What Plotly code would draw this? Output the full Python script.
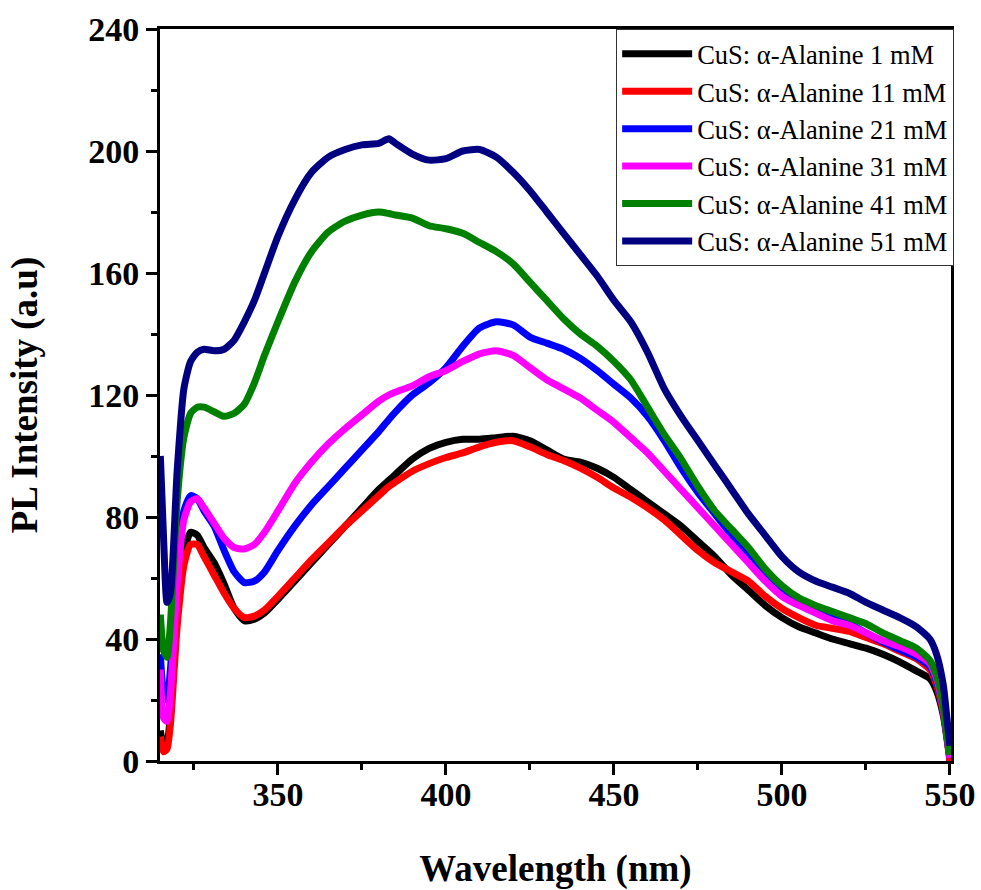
import plotly.graph_objects as go

wavelength = [315, 316, 317, 318, 320, 322, 324, 326, 328, 331, 334, 337, 340, 343, 346, 350,
              355, 360, 365, 370, 375, 380, 383, 385, 390, 395, 400, 405, 410, 415, 420, 425,
              430, 435, 440, 445, 450, 455, 460, 465, 470, 475, 480, 485, 490, 495, 500, 505,
              510, 515, 520, 525, 530, 535, 540, 544, 546, 548, 549, 550]

pl_1mM = [10, 5, 6, 15, 48, 68, 75, 74, 70, 65, 58, 50, 46, 46.5, 48.5, 53,
          59, 65, 71, 77, 83, 89, 92, 94, 99, 102.5, 104.5, 105.5, 105.5, 106, 106.5, 105,
          102, 99, 98, 96, 93, 89, 85, 81, 77, 72, 67, 61, 56, 51, 47, 44,
          42, 40, 38.5, 37, 35, 32.5, 29.5, 27, 23, 15, 8, 0]

pl_11mM = [8, 3, 4, 12, 44, 64, 71, 71, 67, 61, 55, 50, 47, 47.5, 49.5, 54,
           60, 66, 71.5, 77, 82, 87, 90, 91.5, 95, 97.5, 99.5, 101, 103, 104.5, 105, 103,
           100.5, 98.5, 96, 93, 89.5, 86.5, 83, 79, 74, 69, 65, 62, 59, 54, 50, 47,
           44.5, 43.5, 42.5, 40.5, 38.5, 36, 33.5, 30, 25, 16, 9, 0]

pl_21mM = [35, 22, 20, 30, 65, 82, 87, 86, 82, 77, 69, 62, 58.5, 59, 62, 69,
           77, 84, 90, 96, 102, 108, 112, 114.5, 120, 124, 129, 136, 142, 144, 143, 139,
           137, 135, 132, 128, 123.5, 119, 113, 105, 96, 88, 81, 74, 67, 61, 56, 52.5,
           50, 47, 45, 42, 39, 36.5, 34, 31, 26, 17, 9, 1]

pl_31mM = [30, 14, 13, 22, 58, 79, 85, 86, 83, 78, 73, 70, 69.5, 71, 75, 82,
           91, 98, 104, 109, 113.5, 118, 120, 121, 123, 126, 128, 131, 133.5, 134.5, 133, 129,
           125, 122, 119, 115, 111, 106, 101, 95, 89, 83, 77, 71, 65, 59, 54, 51,
           48.5, 46, 44.5, 42, 39.5, 37.5, 35, 32, 27, 17, 9, 1]

pl_41mM = [48, 36, 34, 45, 85, 106, 114, 116, 116, 114.5, 113, 114, 117, 124, 133, 144,
           157, 167, 173.5, 177, 179, 180, 179.5, 179, 178, 175.5, 174.5, 173, 170, 167, 163, 157,
           151, 145, 140, 136, 131, 125, 116, 107, 99, 90, 82, 76, 70, 63, 57.5, 53.5,
           51, 49, 47, 45, 42, 39.5, 37, 33, 28, 18, 9, 2]

pl_51mM = [100, 72, 52, 55, 95, 122, 131, 134, 135, 134.5, 135, 138, 144, 151, 160, 172,
           184, 193, 198, 200.5, 202, 202.5, 204, 202.5, 199, 197, 197.5, 200, 200.5, 198, 193, 187,
           180, 173, 166, 159, 151, 144, 134, 122, 113, 105, 97, 89, 81, 74, 67, 62,
           59, 57, 55, 52, 49.5, 47, 44, 40, 35, 25, 15, 5]

series_names = ["CuS: α-Alanine 1 mM", "CuS: α-Alanine 11 mM", "CuS: α-Alanine 21 mM",
                "CuS: α-Alanine 31 mM", "CuS: α-Alanine 41 mM", "CuS: α-Alanine 51 mM"]
series_values = [pl_1mM, pl_11mM, pl_21mM, pl_31mM, pl_41mM, pl_51mM]
series_colors = ["#000000", "#FF0000", "#0000FF", "#FF00FF", "#008000", "#000080"]

x_tick_vals = [350, 400, 450, 500, 550]
y_tick_vals = [0, 40, 80, 120, 160, 200, 240]

FONT = "Liberation Serif, Times New Roman, serif"

fig = go.Figure()
for name, vals, col in zip(series_names, series_values, series_colors):
    fig.add_trace(go.Scatter(x=wavelength, y=vals, mode="lines", name=name,
                             line=dict(color=col, width=7, shape="spline", smoothing=0.6)))

fig.update_layout(
    width=981, height=890,
    margin=dict(l=160, r=30, t=29, b=129),
    plot_bgcolor="white", paper_bgcolor="white",
    font=dict(family=FONT, color="black"),
    showlegend=True,
    legend=dict(x=1.004, y=1.0, xanchor="right", yanchor="top",
                bgcolor="white", bordercolor="#333333", borderwidth=1,
                font=dict(family=FONT, size=26.5, color="black"),
                itemwidth=70, tracegroupgap=0),
)

fig.update_xaxes(
    range=[314.9, 550.3], tickvals=x_tick_vals, automargin=False,
    showline=True, linecolor="black", linewidth=3, mirror=True,
    ticks="outside", ticklen=11, tickwidth=3, tickcolor="black",
    ticklabelstandoff=-10,
    minor=dict(dtick=25, tick0=325, ticks="outside", ticklen=6, tickwidth=3, tickcolor="black"),
    showgrid=False, zeroline=False,
    tickfont=dict(family=FONT, size=34, color="black", weight="bold"),
    title=dict(text="Wavelength (nm)", standoff=54,
               font=dict(family=FONT, size=37, color="black", weight="bold")),
)

fig.update_yaxes(
    range=[0, 240], tickvals=y_tick_vals, automargin=False,
    showline=True, linecolor="black", linewidth=3, mirror=True,
    ticks="outside", ticklen=11, tickwidth=3, tickcolor="black",
    minor=dict(dtick=20, tick0=20, ticks="outside", ticklen=6, tickwidth=3, tickcolor="black"),
    showgrid=False, zeroline=False,
    tickfont=dict(family=FONT, size=34, color="black", weight="bold"),
    title=dict(text="PL Intensity (a.u)", standoff=40,
               font=dict(family=FONT, size=37, color="black", weight="bold")),
)

fig.write_html("out.html")
